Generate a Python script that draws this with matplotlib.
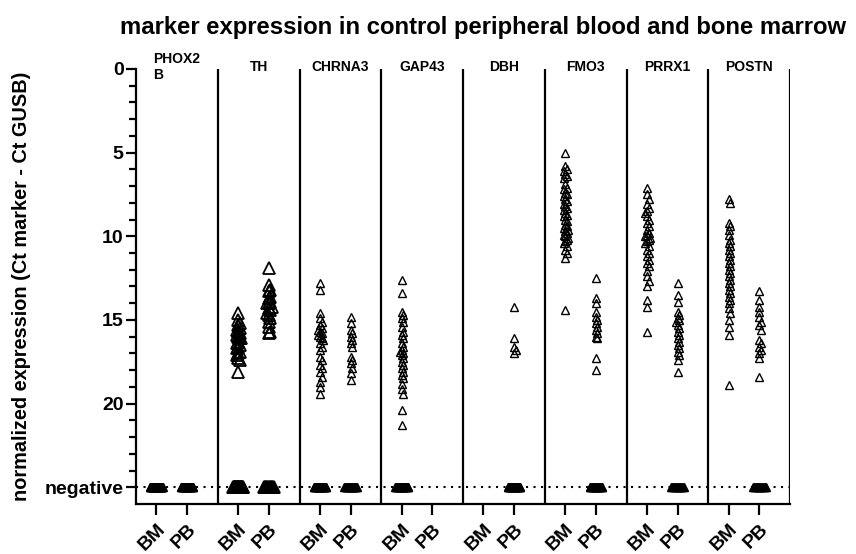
import numpy as np
import matplotlib
matplotlib.use("Agg")
import matplotlib.pyplot as plt

plt.rcParams['font.family'] = ['Liberation Sans', 'DejaVu Sans']
plt.rcParams['font.weight'] = 'bold'

markers = ['PHOX2\nB', 'TH', 'CHRNA3', 'GAP43', 'DBH', 'FMO3', 'PRRX1', 'POSTN']
groups = ['BM', 'PB']

# detected values (Ct marker - Ct GUSB), per marker: [BM, PB]
th_bm = [14.6, 15.0, 15.2, 15.3, 15.5, 15.6, 15.7, 15.8, 15.9, 16.0, 16.1, 16.1, 16.3,
         16.4, 16.5, 16.6, 16.7, 16.9, 17.0, 17.1, 17.3, 17.4, 18.1]
th_pb = [11.9, 12.9, 13.2, 13.3, 13.6, 13.7, 13.9, 14.0, 14.0, 14.2, 14.3, 14.4, 14.6,
         14.7, 14.9, 15.1, 15.4, 15.7, 15.8]
chrna3_bm = [12.8, 13.2, 14.6, 14.9, 15.1, 15.3, 15.5, 15.6, 15.7, 15.8, 15.9, 16.0, 16.1,
             16.2, 16.4, 16.6, 16.8, 17.2, 17.4, 17.7, 17.9, 18.1, 18.4, 18.7, 19.0, 19.4]
chrna3_pb = [14.8, 15.2, 15.6, 15.8, 16.0, 16.2, 16.4, 16.6, 17.2, 17.4, 17.6, 17.9, 18.2, 18.6]
gap43_bm = [12.6, 13.4, 14.5, 14.7, 14.9, 15.1, 15.4, 15.7, 15.9, 16.1, 16.4, 16.6, 16.8,
            16.9, 17.0, 17.1, 17.3, 17.5, 17.7, 17.9, 18.1, 18.3, 18.5, 18.8, 19.1, 19.4,
            20.4, 21.3]
dbh_pb = [14.2, 16.1, 16.6, 16.8, 17.0]
fmo3_bm = [5.0, 5.8, 6.0, 6.1, 6.3, 6.4, 6.5, 6.9, 7.1, 7.2, 7.4, 7.5, 7.6, 7.8, 7.9, 8.1,
           8.2, 8.3, 8.4, 8.6, 8.7, 8.8, 9.0, 9.1, 9.3, 9.4, 9.5, 9.6, 9.7, 9.8, 9.9, 10.0,
           10.1, 10.2, 10.3, 10.4, 10.6, 10.8, 11.0, 11.3, 14.4]
fmo3_pb = [12.5, 13.7, 14.0, 14.5, 14.8, 15.0, 15.2, 15.4, 15.6, 15.8, 16.0, 16.1, 17.3, 18.0]
prrx1_bm = [7.1, 7.5, 7.8, 8.1, 8.3, 8.5, 8.6, 8.8, 9.0, 9.2, 9.4, 9.6, 9.8, 9.9, 10.0,
            10.1, 10.2, 10.3, 10.4, 10.6, 10.8, 11.0, 11.2, 11.4, 11.6, 11.8, 12.1, 12.4,
            12.7, 13.0, 13.8, 14.2, 15.7]
prrx1_pb = [12.8, 13.5, 13.9, 14.5, 14.7, 14.9, 15.0, 15.1, 15.3, 15.5, 15.7, 15.9, 16.1,
            16.3, 16.5, 16.7, 16.9, 17.1, 17.4, 18.1]
postn_bm = [7.8, 8.0, 9.2, 9.4, 9.6, 9.9, 10.2, 10.4, 10.6, 10.8, 11.0, 11.2, 11.4, 11.6,
            11.8, 12.0, 12.2, 12.4, 12.6, 12.8, 13.0, 13.2, 13.4, 13.6, 13.8, 14.0, 14.3,
            14.6, 15.0, 15.4, 15.9, 18.9]
postn_pb = [13.3, 13.8, 14.2, 14.5, 14.8, 15.1, 15.3, 15.6, 16.2, 16.4, 16.6, 16.8, 17.0,
            17.3, 18.4]

detected = [
    [[], []],
    [th_bm, th_pb],
    [chrna3_bm, chrna3_pb],
    [gap43_bm, []],
    [[], dbh_pb],
    [fmo3_bm, fmo3_pb],
    [prrx1_bm, prrx1_pb],
    [postn_bm, postn_pb],
]
# number of negative samples per marker [BM, PB]
negatives = [[40, 25], [30, 15], [25, 20], [25, 0], [0, 25], [0, 20], [0, 15], [0, 15]]

NEG = 25


def swarm(vals, step, tol):
    order = np.argsort(vals)
    offs = np.zeros(len(vals))
    placed = []
    for k in order:
        v = vals[k]
        near = [o for (pv, o) in placed if abs(pv - v) < tol]
        for c in [0, 1, -1, 2, -2, 3, -3]:
            if all(abs(c * step - o) > step * 0.5 for o in near):
                offs[k] = c * step
                break
        placed.append((v, offs[k]))
    return offs


fig = plt.figure(figsize=(8.56, 5.54), dpi=100)
ax = fig.add_axes([0.1589, 0.0903, 0.9229 - 0.1589, 0.8755 - 0.0903])

xpos = []
for i, m in enumerate(markers):
    big = (m == 'TH')
    ms = 8.5 if big else 5.8
    mew = 1.3 if big else 1.0
    for j in range(2):
        x0 = 4 * i + (1.0 if j == 0 else 2.5)
        xpos.append(x0)
        vals = np.array(detected[i][j])
        if len(vals):
            offs = swarm(vals, 0.08, 0.3)
            ax.plot(x0 + offs, vals, ls='none', marker='^', ms=ms, mfc='none',
                    mec='black', mew=mew, clip_on=False, zorder=3)
        n = negatives[i][j]
        if n:
            half = 0.24 if big else 0.31
            nx = x0 + np.linspace(-half, half, n)
            ax.plot(nx, [NEG] * n, ls='none', marker='^', ms=ms, mfc='black',
                    mec='black', mew=mew, clip_on=False, zorder=3)
    # divider / right border
    ax.axvline(4 * (i + 1), color='black', lw=1.6, zorder=2)
    ax.text(4 * i + 2, -0.1, m, ha='center', va='center', multialignment='left',
            fontsize=10, fontweight='bold', clip_on=False)

ax.axhline(NEG, color='black', lw=1.5, ls=(0, (1, 2.6)), zorder=1)

ax.set_xlim(0, 32)
ax.set_ylim(26, 0)
ax.set_yticks([0, 5, 10, 15, 20, NEG])
ax.set_yticklabels(['0', '5', '10', '15', '20', 'negative'])
ax.set_yticks([1, 2, 3, 4, 6, 7, 8, 9, 11, 12, 13, 14, 16, 17, 18, 19, 21, 22, 23, 24],
              minor=True)
ax.set_xticks(xpos)
ax.set_xticklabels(groups * len(markers), rotation=45, ha='right',
                   rotation_mode='anchor')

ax.spines['top'].set_visible(False)
ax.spines['right'].set_visible(False)
ax.spines['left'].set_linewidth(1.6)
ax.spines['bottom'].set_linewidth(1.6)
ax.tick_params(axis='y', which='major', length=7, width=1.6, labelsize=14, pad=2)
ax.tick_params(axis='y', which='minor', length=5, width=1.6)
ax.tick_params(axis='x', which='major', length=8, width=1.6, labelsize=14, pad=4)
for lab in ax.get_yticklabels() + ax.get_xticklabels():
    lab.set_fontweight('bold')

ax.set_ylabel('normalized expression (Ct marker - Ct GUSB)', fontsize=14.3,
              fontweight='bold')
ax.yaxis.set_label_coords(-0.16, 0.5)
fig.text(0.564, 0.95, 'marker expression in control peripheral blood and bone marrow',
         ha='center', va='center', fontsize=17.2, fontweight='bold')

fig.savefig('out.png', dpi=100)
